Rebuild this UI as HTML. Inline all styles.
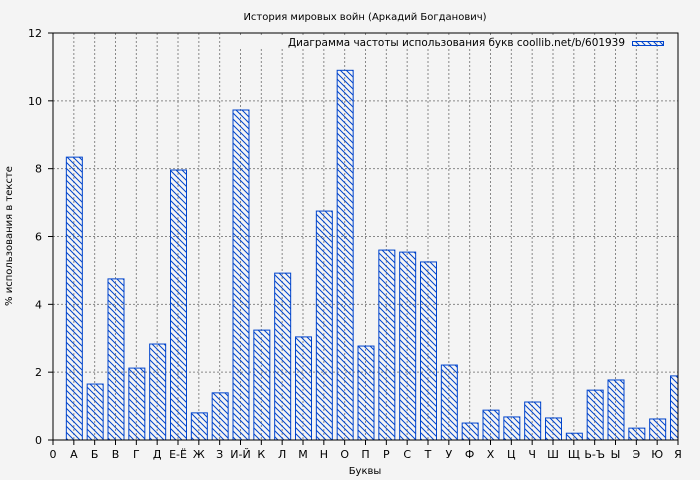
<!DOCTYPE html>
<html><head><meta charset="utf-8"><style>
body{margin:0;background:#f4f4f4}
svg{display:block;font-family:"DejaVu Sans","Liberation Sans",sans-serif}
</style></head><body>
<svg id="s" width="700" height="480" xmlns="http://www.w3.org/2000/svg">
<defs>
<pattern id="h" patternUnits="userSpaceOnUse" width="6" height="6">
<path d="M-1,-1 L7,7 M-1,5 L1,7 M5,-1 L7,1" stroke="#0044cc" stroke-width="1"/>
</pattern>
<clipPath id="c"><rect x="53" y="33" width="625" height="407"/></clipPath>
</defs>
<rect width="700" height="480" fill="#f4f4f4"/>
<g id="grid"></g>
<g id="bars" clip-path="url(#c)"></g>
<rect x="53" y="33" width="625" height="407" fill="none" stroke="#000" stroke-width="1"/>
<g id="ticks" font-size="11" fill="#000"></g>
<text x="365" y="20" font-size="10" text-anchor="middle">История мировых войн (Аркадий Богданович)</text>
<text x="365" y="474" font-size="10" text-anchor="middle">Буквы</text>
<text transform="translate(12,236) rotate(-90)" font-size="10" text-anchor="middle">% использования в тексте</text>
<rect x="240" y="35" width="386" height="14" fill="#f4f4f4"/>
<text x="625" y="46" font-size="10.5" text-anchor="end" textLength="337" lengthAdjust="spacingAndGlyphs">Диаграмма частоты использования букв coollib.net/b/601939</text>
<rect x="632.5" y="41.5" width="31" height="4" fill="url(#h)" stroke="#0044cc"/>
</svg>
<script>
var L=["0","А","Б","В","Г","Д","Е-Ё","Ж","З","И-Й","К","Л","М","Н","О","П","Р","С","Т","У","Ф","Х","Ц","Ч","Ш","Щ","Ь-Ъ","Ы","Э","Ю","Я"];
var V=[8.34,1.65,4.75,2.12,2.83,7.96,0.8,1.39,9.73,3.24,4.92,3.04,6.75,10.9,2.77,5.6,5.54,5.25,2.21,0.5,0.88,0.68,1.12,0.65,0.2,1.47,1.77,0.35,0.62,1.89];
var ns="http://www.w3.org/2000/svg";
function el(p,t,a,txt){var e=document.createElementNS(ns,t);for(var k in a)e.setAttribute(k,a[k]);if(txt!=null)e.textContent=txt;document.getElementById(p).appendChild(e);}
var dx=625/30,py=407/12;
for(var i=0;i<=30;i++){var x=53+i*dx;
 if(i>0&&i<30)el("grid","line",{x1:x,x2:x,y1:33,y2:440,stroke:"#888","stroke-dasharray":"2,2"});
 el("ticks","line",{x1:x,x2:x,y1:440,y2:445,stroke:"#000"});
 el("ticks","text",{x:x,y:458,"text-anchor":"middle"},L[i]);}
for(var j=0;j<=12;j+=2){var y=440-j*py;
 if(j>0&&j<12)el("grid","line",{x1:53,x2:678,y1:y,y2:y,stroke:"#888","stroke-dasharray":"2,2"});
 el("ticks","line",{x1:48,x2:53,y1:y,y2:y,stroke:"#000"});
 el("ticks","text",{x:42,y:y+4,"text-anchor":"end"},j);}
for(var i=0;i<30;i++){var x=53+(i+1)*dx-8,h=V[i]*py;
 el("bars","rect",{x:x+0.5,y:440-h,width:16,height:h,fill:"url(#h)",stroke:"#0044cc","stroke-width":1});}
</script>
</body></html>
